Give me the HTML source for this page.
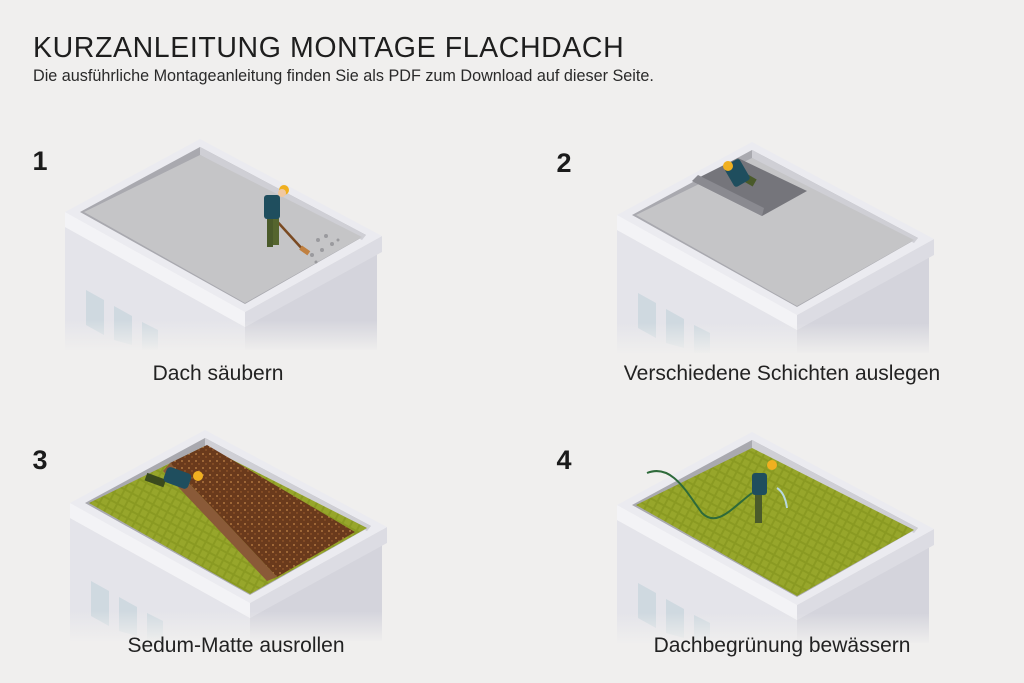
<!DOCTYPE html>
<html><head><meta charset="utf-8"><style>
body{margin:0;background:#f0efee;}
.w{position:relative;width:1024px;height:683px;overflow:hidden;background:#f0efee;font-family:"Liberation Sans",sans-serif;color:#222;}
</style></head><body><div class="w">
<svg width="1024" height="683" viewBox="0 0 1024 683" xmlns="http://www.w3.org/2000/svg">
<defs>
<linearGradient id="fade" x1="0" y1="0" x2="0" y2="1">
<stop offset="0" stop-color="#f0efee" stop-opacity="0"/><stop offset="1" stop-color="#f0efee" stop-opacity="1"/></linearGradient>
<pattern id="gr" width="8" height="8" patternUnits="userSpaceOnUse" patternTransform="rotate(28)">
<rect width="8" height="8" fill="#8a9a22"/><rect width="6" height="6" fill="#97a62b"/></pattern>
<pattern id="br" width="7" height="7" patternUnits="userSpaceOnUse">
<rect width="7" height="7" fill="#6a3a1c"/><circle cx="2" cy="2" r="0.9" fill="#c4874a"/><circle cx="5" cy="5" r="0.7" fill="#a66530"/></pattern>
<g id="bld">
<polygon points="65,227 245,327 245,350 65,350" fill="#e4e4ea"/>
<polygon points="245,327 377,252 377,350 245,350" fill="#d4d4dc"/>
<polygon points="86,290 104,300 104,335 86,325" fill="#cfd9e0"/>
<polygon points="114,306 132,316 132,345 114,340" fill="#cfd9e0"/>
<polygon points="142,322 158,330 158,350 142,350" fill="#cfd9e0"/>
<polygon points="65,212 245,312 245,327 65,227" fill="#f3f3f6"/>
<polygon points="245,312 382,236 382,252 245,327" fill="#dcdce3"/>
<polygon points="65,212 200,139 382,236 245,312" fill="#ebebf0"/>
<polygon points="80,212 200,147 366,235 245,304" fill="#a9a9af"/>
<polygon points="200,147 366,235 362,240 200,155" fill="#cfcfd5"/>
<rect x="60" y="320" width="330" height="32" fill="url(#fade)"/>
</g>
<polygon id="floor" points="84,212 200,155 362,237 245,303"/>
</defs>
<text x="33" y="57" font-size="28.5" fill="#1e1e1e" letter-spacing="0.6">KURZANLEITUNG MONTAGE FLACHDACH</text>
<text x="33" y="81" font-size="16.2" fill="#2a2a2a">Die ausführliche Montageanleitung finden Sie als PDF zum Download auf dieser Seite.</text>

<!-- panel 1 -->
<use href="#bld"/>
<use href="#floor" fill="#c5c5c7"/>
<g fill="#9a9a9e"><circle cx="318" cy="240" r="2"/><circle cx="326" cy="236" r="2"/><circle cx="332" cy="244" r="2"/><circle cx="322" cy="250" r="2"/><circle cx="312" cy="255" r="2"/><circle cx="338" cy="240" r="1.5"/><circle cx="316" cy="262" r="1.5"/></g>
<g>
<line x1="274" y1="218" x2="305" y2="252" stroke="#7a4a22" stroke-width="2.5"/>
<rect x="300" y="248" width="10" height="5" fill="#c08040" transform="rotate(35 305 250)"/>
<rect x="267" y="217" width="6" height="30" fill="#4a5a2a"/><rect x="273" y="217" width="6" height="28" fill="#55652e"/>
<rect x="264" y="195" width="16" height="24" rx="3" fill="#1f4e5e"/>
<circle cx="284" cy="190" r="5" fill="#f0b020"/><circle cx="282" cy="193" r="4" fill="#f0c8a0"/>
</g>
<text x="40" y="170" font-size="27" font-weight="bold" fill="#1b1b1b" text-anchor="middle">1</text>
<text x="218" y="380" font-size="21" fill="#222" text-anchor="middle">Dach säubern</text>

<!-- panel 2 -->
<g transform="translate(552,3)"><use href="#bld"/><use href="#floor" fill="#c5c5c7"/>
<polygon points="140,178 186,155 255,188 210,213" fill="#75757b"/>
<polygon points="140,178 210,213 212,205 146,172" fill="#8a8a90"/>
<rect x="190" y="165" width="8" height="20" fill="#4a5a2a" transform="rotate(-60 194 175)"/>
<rect x="176" y="158" width="18" height="24" rx="3" fill="#1f4e5e" transform="rotate(-30 185 170)"/>
<circle cx="176" cy="163" r="5" fill="#f0b020"/>
</g>
<text x="564" y="172" font-size="27" font-weight="bold" fill="#1b1b1b" text-anchor="middle">2</text>
<text x="782" y="380" font-size="21" fill="#222" text-anchor="middle">Verschiedene Schichten auslegen</text>

<!-- panel 3 -->
<g transform="translate(5,291)"><use href="#bld"/><use href="#floor" fill="url(#gr)"/>
<polygon points="165,172 202,154 350,241 272,286" fill="url(#br)"/>
<polygon points="165,172 272,286 262,290 158,180" fill="#8a5a38"/>
<rect x="140" y="185" width="20" height="8" fill="#3a4a1e" transform="rotate(20 150 190)"/>
<rect x="160" y="178" width="26" height="16" rx="4" fill="#1f4e5e" transform="rotate(20 170 185)"/>
<circle cx="193" cy="185" r="5" fill="#f0b020"/>
</g>
<text x="40" y="469" font-size="27" font-weight="bold" fill="#1b1b1b" text-anchor="middle">3</text>
<text x="236" y="652" font-size="21" fill="#222" text-anchor="middle">Sedum-Matte ausrollen</text>

<!-- panel 4 -->
<g transform="translate(552,293)"><use href="#bld"/><use href="#floor" fill="url(#gr)"/>
<path d="M95,180 C120,170 135,200 150,220 C165,235 180,215 200,200" stroke="#2e6a3a" stroke-width="2" fill="none"/>
<rect x="203" y="200" width="7" height="30" fill="#4a5a2a"/>
<rect x="200" y="180" width="15" height="22" rx="3" fill="#1f4e5e"/>
<circle cx="220" cy="172" r="5" fill="#f0b020"/>
<path d="M225,195 q8,5 10,20" stroke="#b8d8e0" stroke-width="2" fill="none"/>
</g>
<text x="564" y="469" font-size="27" font-weight="bold" fill="#1b1b1b" text-anchor="middle">4</text>
<text x="782" y="652" font-size="21" fill="#222" text-anchor="middle">Dachbegrünung bewässern</text>
</svg>
</div></body></html>
